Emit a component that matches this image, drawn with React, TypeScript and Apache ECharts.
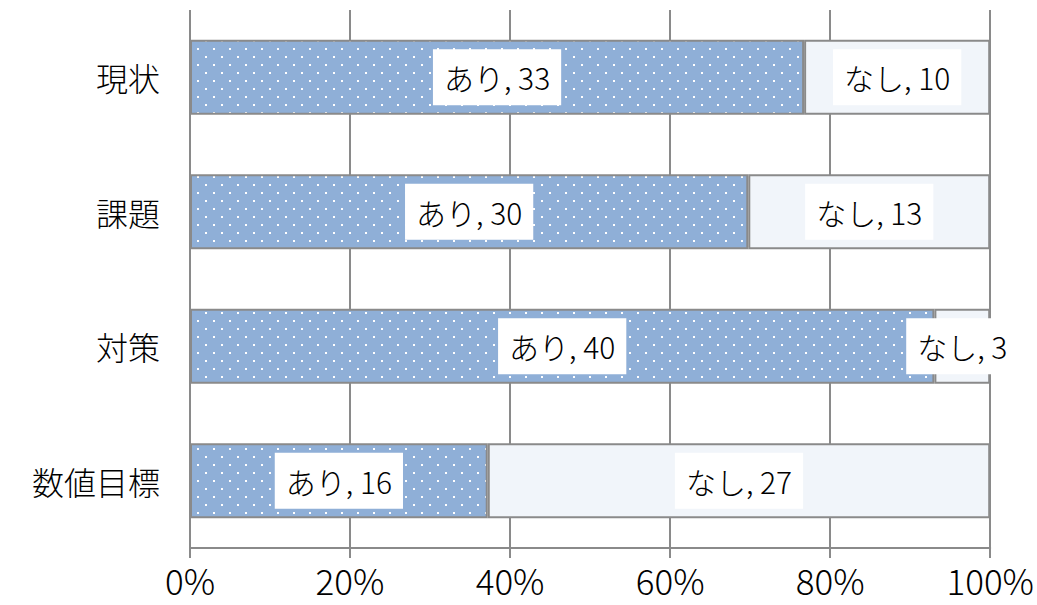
import React, { useEffect, useRef } from "react";
import * as echarts from "echarts";

const categories = ["現状", "課題", "対策", "数値目標"];
const ariValues = [33, 30, 40, 16];
const nashiValues = [10, 13, 3, 27];
const tickValues = [0, 20, 40, 60, 80, 100];

const FONT = "'Noto Sans CJK JP', 'Noto Sans', sans-serif";

function makePattern(): HTMLCanvasElement {
  const c = document.createElement("canvas");
  c.width = 16;
  c.height = 16;
  const ctx = c.getContext("2d")!;
  ctx.fillStyle = "#8FAFD7";
  ctx.fillRect(0, 0, 16, 16);
  ctx.fillStyle = "#ffffff";
  ctx.fillRect(5, 0, 2, 2);
  ctx.fillRect(13, 8, 2, 2);
  return c;
}

export default function App() {
  const ref = useRef<HTMLDivElement>(null);
  useEffect(() => {
    if (!ref.current) return;
    const chart = echarts.init(ref.current, null, { renderer: "svg" });
    const totals = ariValues.map((v, i) => v + nashiValues[i]);
    const ariPct = ariValues.map((v, i) => (v / totals[i]) * 100);
    const nashiPct = nashiValues.map((v, i) => (v / totals[i]) * 100);
    const pattern = makePattern();
    const labelStyle = {
      show: true,
      position: "inside" as const,
      color: "#000",
      fontSize: 30,
      fontWeight: 300,
      fontFamily: FONT,
      backgroundColor: "#ffffff",
      padding: [12, 11, 12, 11],
      lineHeight: 32,
    };
    chart.setOption({
      animation: false,
      grid: { left: 190, right: 46, top: 10, bottom: 57, containLabel: false },
      xAxis: {
        type: "value",
        min: 0,
        max: 100,
        interval: 20,
        axisLine: { show: true, lineStyle: { color: "#8a8a8a", width: 2 } },
        axisTick: { show: true, length: 10, lineStyle: { color: "#8a8a8a", width: 2 } },
        splitLine: { show: true, lineStyle: { color: "#8a8a8a", width: 2 } },
        axisLabel: {
          formatter: (v: number) => (tickValues.includes(v) ? `${v}%` : ""),
          color: "#000",
          fontSize: 35,
          fontWeight: 300,
          fontFamily: FONT,
          margin: 14,
        },
      },
      yAxis: {
        type: "category",
        data: categories,
        inverse: true,
        axisLine: { show: false },
        axisTick: { show: false },
        splitLine: { show: false },
        axisLabel: {
          color: "#000",
          fontSize: 32,
          fontWeight: 300,
          fontFamily: FONT,
          margin: 30,
        },
      },
      series: [
        {
          name: "あり",
          type: "bar",
          stack: "total",
          barWidth: 75,
          data: ariPct,
          itemStyle: {
            color: { image: pattern, repeat: "repeat", imageWidth: 16, imageHeight: 16 },
            borderColor: "#8a8a8a",
            borderWidth: 2,
          },
          label: {
            ...labelStyle,
            formatter: (p: any) => `あり, ${ariValues[p.dataIndex]}`,
          },
        },
        {
          name: "なし",
          type: "bar",
          stack: "total",
          barWidth: 75,
          data: nashiPct,
          itemStyle: {
            color: "#F1F5FA",
            borderColor: "#8a8a8a",
            borderWidth: 2,
          },
          label: {
            ...labelStyle,
            formatter: (p: any) => `なし, ${nashiValues[p.dataIndex]}`,
          },
        },
      ],
    });
    return () => chart.dispose();
  }, []);
  return <div ref={ref} style={{ width: 1037, height: 605, position: "absolute", left: 0, top: 0 }} />;
}
